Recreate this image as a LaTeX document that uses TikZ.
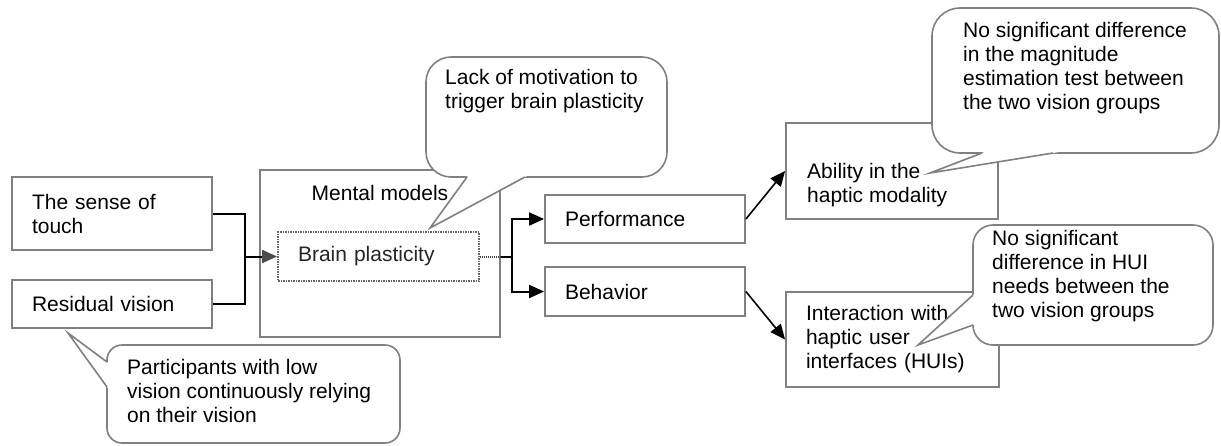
\documentclass[tikz,border=0pt]{standalone}
\usepackage{fontspec}
\setmainfont{Liberation Sans}
\usetikzlibrary{arrows.meta,calc}

% speech bubble: rounded body, then a pointer whose base is blanked out
\newcommand{\bubble}[6]{%
  \draw[bubbleline, rounded corners=#3] #1 rectangle #2;
  \fill[white] ($#4!-0.08!#5$) -- #5 -- ($#6!-0.08!#5$) -- cycle;
  \draw[bubbleline, fill=none, line join=miter] #4 -- #5 -- #6;
}

\begin{document}
\begin{tikzpicture}[x=1pt,y=-1pt,
  every node/.style={font=\fontsize{21}{24}\selectfont},
  box/.style={draw=gray, line width=1.8pt, fill=white, inner xsep=20pt, inner ysep=2pt, align=left},
  txt/.style={inner sep=0pt, align=left, anchor=west},
  link/.style={line width=2pt, draw=black},
  arr/.style={link, -{Triangle[length=15pt,width=13pt]}},
  bubbleline/.style={draw=gray, line width=1.6pt, fill=white},
]
\useasboundingbox (0,0) rectangle (1221,445);

% inputs
\node[box, text width=160pt, minimum height=73pt] (touch) at (112,213.5) {The sense of\\touch};
\node[box, text width=160pt, minimum height=48pt] (resid) at (112,304) {Residual vision};

% mental models with brain plasticity inside
\node[box, minimum width=240pt, minimum height=167pt] (mm) at (380,253.5) {};
\node[txt, anchor=center] (mmtxt) at (380,193) {Mental models};
\node[box, draw=gray!80!black, dash pattern=on 1.5pt off 1pt, text width=161pt, minimum height=49pt, text=black!85] (brain) at (378.5,256.5) {Brain plasticity};

% outcomes
\node[box, text width=160pt, minimum height=48pt] (perf) at (645,219) {Performance};
\node[box, text width=160pt, minimum height=49pt] (behav) at (645,291.5) {Behavior};
\node[box, minimum width=212pt, minimum height=96pt] (ability) at (892,171) {};
\node[txt] (abilitytxt) at (807,185.5) {Ability in the\\haptic modality};
\node[box, text width=173pt, minimum height=95pt] (inter) at (892.5,339.5) {Interaction with\\haptic user\\interfaces (HUIs)};

% connectors
\coordinate (jl) at (245,256.5);
\coordinate (jr) at (512,256.5);
\coordinate (mmr) at (mm.east |- brain.east);
\draw[link] (touch.east) -| (jl) |- (resid.east);
\draw[link, -{Triangle[length=15pt,width=13pt,color=black!70]}] (jl) -- (brain.west);
\draw[line width=2pt, black!75, dash pattern=on 1pt off 1pt] (brain.east) -- (mmr);
\draw[link] (mmr) -- (jr);
\draw[arr] (jr) |- (perf.west);
\draw[arr] (jr) |- (behav.west);
\draw[arr, line width=1.6pt] (perf.east) -- (ability.west);
\draw[arr, line width=1.6pt] (behav.east) -- (inter.west);

% speech bubbles
\bubble{(426,57)}{(667,177)}{25pt}{(467,177)}{(430,228)}{(525,177)}
\bubble{(932,8)}{(1219,153)}{28pt}{(982,153)}{(930,173)}{(1053,153)}
\bubble{(973,225)}{(1213,345)}{20pt}{(973,295)}{(918,345)}{(973,325)}
\bubble{(107,345)}{(400,443)}{15pt}{(107,362)}{(68,333)}{(107,387)}

\node[txt] (note1) at (445,91) {Lack of motivation to\\trigger brain plasticity};
\node[txt] (note2) at (963,68) {No significant difference\\in the magnitude\\estimation test between\\the two vision groups};
\node[txt] (note3) at (992,276) {No significant\\difference in HUI\\needs between the\\two vision groups};
\node[txt] (note4) at (127,391) {Participants with low\\vision continuously relying\\on their vision};
\end{tikzpicture}
\end{document}
